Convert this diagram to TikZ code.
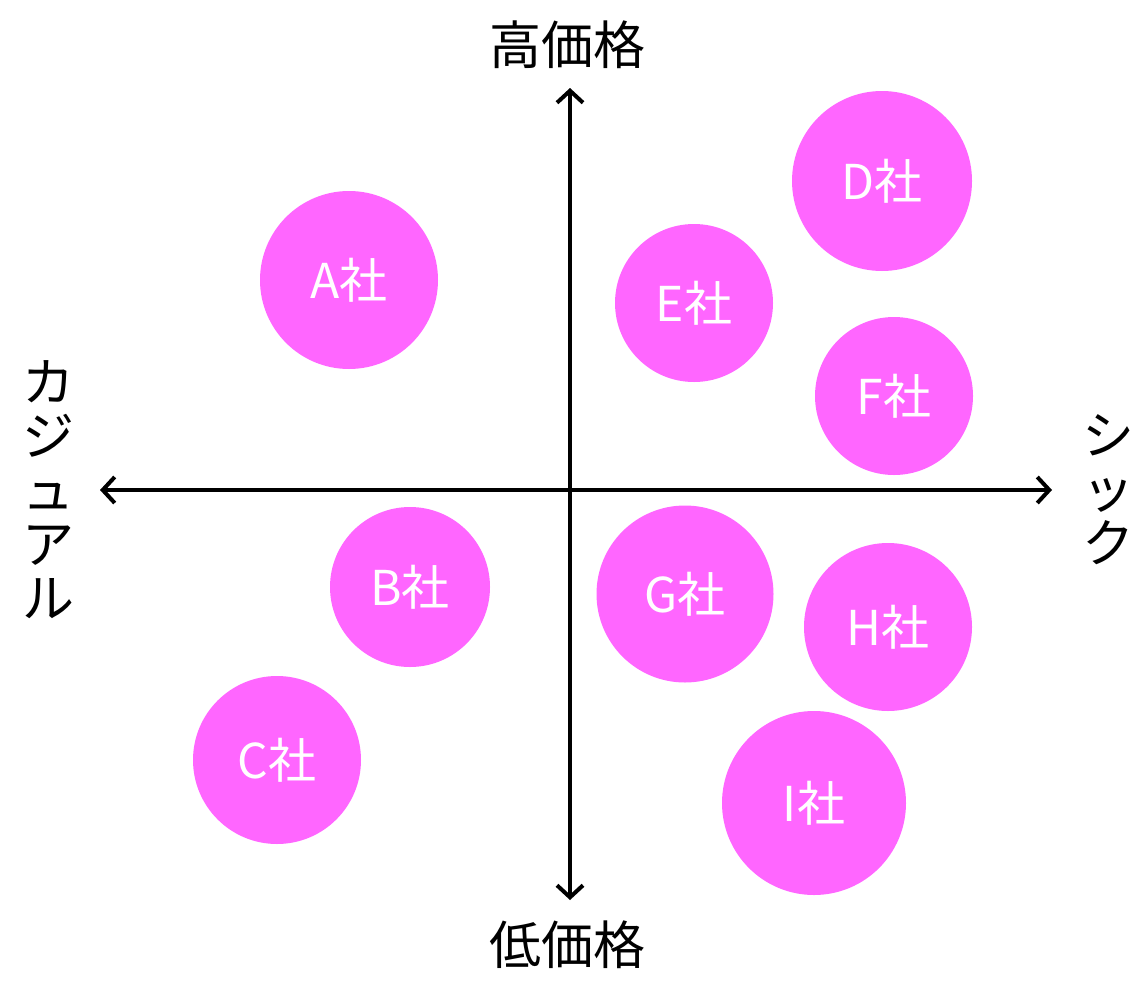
\documentclass[tikz,border=0pt]{standalone}
\usepackage{fontspec}
\setmainfont{Noto Sans CJK JP}
\usetikzlibrary{arrows.meta}
\definecolor{bubble}{HTML}{FF66FF}
\tikzset{
  axisline/.style={line width=4pt, {Straight Barb[length=12pt,width=26pt]}-{Straight Barb[length=12pt,width=26pt]}},
  company/.style={circle, fill=bubble, draw=none, text=white, font=\fontsize{48}{48}\selectfont, inner sep=0pt},
  axislabel/.style={font=\fontsize{52}{52}\selectfont, text=black, inner sep=0pt},
  vlabel/.style={axislabel, align=center, font=\fontsize{52}{54}\selectfont}
}
\begin{document}
\begin{tikzpicture}[x=1pt,y=-1pt]
\useasboundingbox (0,0) rectangle (1132,980);
\fill[white] (0,0) rectangle (1132,980);
% axes
\coordinate (L) at (100,490);
\coordinate (R) at (1052,490);
\coordinate (T) at (570,88);
\coordinate (B) at (570,900);
\draw[axisline] (L) -- (R);
\draw[axisline] (T) -- (B);
% axis labels
\node[axislabel] (high) at (567,45) {高価格};
\node[axislabel] (low) at (567,945) {低価格};
\node[vlabel] (casual) at (48,490) {カ\\ジ\\ュ\\ア\\ル};
\node[vlabel] (chic) at (1108,490) {シ\\ッ\\ク};
% companies
\node[company, minimum size=178pt] (A) at (349,280) {A社};
\node[company, minimum size=180pt] (D) at (882,181) {D社};
\node[company, minimum size=158pt] (E) at (694,303) {E社};
\node[company, minimum size=158pt] (F) at (894,396) {F社};
\node[company, minimum size=160pt] (Bc) at (410,587) {B社};
\node[company, minimum size=177pt] (G) at (685,594) {G社};
\node[company, minimum size=168pt] (H) at (888,627) {H社};
\node[company, minimum size=168pt] (C) at (277,760) {C社};
\node[company, minimum size=184pt] (I) at (814,803) {I社};
\end{tikzpicture}
\end{document}
